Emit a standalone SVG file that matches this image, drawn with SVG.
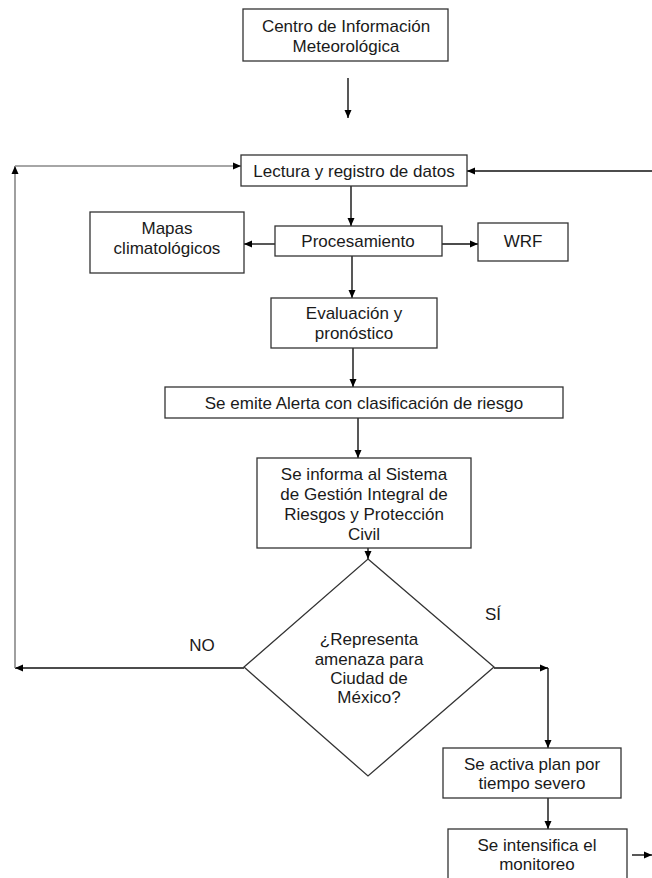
<svg xmlns="http://www.w3.org/2000/svg" width="652" height="878" viewBox="0 0 652 878">
<style>
.box{fill:#fff;stroke:#333;stroke-width:1.3}
.t{font-family:"Liberation Sans",Arial,sans-serif;font-size:17px;fill:#1a1a1a;text-anchor:middle}
.c{fill:none;stroke:#111;stroke-width:1.4}
.g{fill:none;stroke:#888;stroke-width:1.6}
</style>
<defs>
<marker id="ah" markerWidth="8" markerHeight="8" refX="8" refY="4" orient="auto" markerUnits="userSpaceOnUse">
<path d="M0,0.5 L8,4 L0,7.5 z" fill="#000"/>
</marker>
</defs>
<rect width="652" height="878" fill="#fff"/>
<g id="connectors">
<line class="c" x1="348" y1="78" x2="348" y2="118" marker-end="url(#ah)"/>
<line class="c" x1="351" y1="186" x2="351" y2="226" marker-end="url(#ah)"/>
<line class="c" x1="275" y1="244" x2="244" y2="244" marker-end="url(#ah)"/>
<line class="c" x1="442" y1="244" x2="478" y2="244" marker-end="url(#ah)"/>
<line class="c" x1="352" y1="256" x2="352" y2="298" marker-end="url(#ah)"/>
<line class="c" x1="353" y1="348" x2="353" y2="387" marker-end="url(#ah)"/>
<line class="c" x1="358" y1="418" x2="358" y2="458" marker-end="url(#ah)"/>
<line class="c" x1="368" y1="548" x2="368" y2="559" marker-end="url(#ah)"/>
<line class="c" x1="244" y1="668" x2="15" y2="668" marker-end="url(#ah)"/>
<line class="g" x1="15" y1="668" x2="15" y2="166" marker-end="url(#ah)"/>
<line class="g" x1="15" y1="166" x2="241" y2="166" marker-end="url(#ah)"/>
<line class="c" x1="652" y1="171" x2="467" y2="171" marker-end="url(#ah)"/>
<line class="c" x1="494" y1="668" x2="548" y2="668" marker-end="url(#ah)"/>
<line class="c" x1="548" y1="668" x2="548" y2="748" marker-end="url(#ah)"/>
<line class="c" x1="548" y1="798" x2="548" y2="829" marker-end="url(#ah)"/>
<line class="c" x1="632" y1="855" x2="652" y2="855" marker-end="url(#ah)"/>
</g>
<g id="centro">
<rect class="box" x="243" y="9" width="205" height="52"/>
<text class="t" x="346" y="32">Centro de Información</text>
<text class="t" x="346" y="52">Meteorológica</text>
</g>
<g id="lectura">
<rect class="box" x="241" y="155" width="226" height="31"/>
<text class="t" x="354" y="177">Lectura y registro de datos</text>
</g>
<g id="mapas">
<rect class="box" x="90" y="212" width="154" height="61"/>
<text class="t" x="167" y="234">Mapas</text>
<text class="t" x="167" y="254">climatológicos</text>
</g>
<g id="procesamiento">
<rect class="box" x="275" y="226" width="167" height="30"/>
<text class="t" x="358" y="247">Procesamiento</text>
</g>
<g id="wrf">
<rect class="box" x="478" y="223" width="90" height="38"/>
<text class="t" x="523" y="247">WRF</text>
</g>
<g id="evaluacion">
<rect class="box" x="271" y="298" width="166" height="50"/>
<text class="t" x="354" y="319">Evaluación y</text>
<text class="t" x="354" y="339">pronóstico</text>
</g>
<g id="alerta">
<rect class="box" x="165" y="387" width="398" height="31"/>
<text class="t" x="364" y="409">Se emite Alerta con clasificación de riesgo</text>
</g>
<g id="sistema">
<rect class="box" x="257" y="458" width="214" height="90"/>
<text class="t" x="364" y="480">Se informa al Sistema</text>
<text class="t" x="364" y="500">de Gestión Integral de</text>
<text class="t" x="364" y="520">Riesgos y Protección</text>
<text class="t" x="364" y="540">Civil</text>
</g>
<g id="decision">
<polygon class="box" points="368,559 494,667 368,776 244,667"/>
<text class="t" x="369" y="645">¿Representa</text>
<text class="t" x="369" y="665">amenaza para</text>
<text class="t" x="369" y="684">Ciudad de</text>
<text class="t" x="369" y="703">México?</text>
</g>
<g id="labels">
<text class="t" x="202" y="651">NO</text>
<text class="t" x="493" y="620">SÍ</text>
</g>
<g id="activa">
<rect class="box" x="443" y="748" width="178" height="50"/>
<text class="t" x="532" y="770">Se activa plan por</text>
<text class="t" x="532" y="789">tiempo severo</text>
</g>
<g id="intensifica">
<rect class="box" x="448" y="829" width="179" height="60"/>
<text class="t" x="537" y="851">Se intensifica el</text>
<text class="t" x="537" y="870">monitoreo</text>
</g>
</svg>
